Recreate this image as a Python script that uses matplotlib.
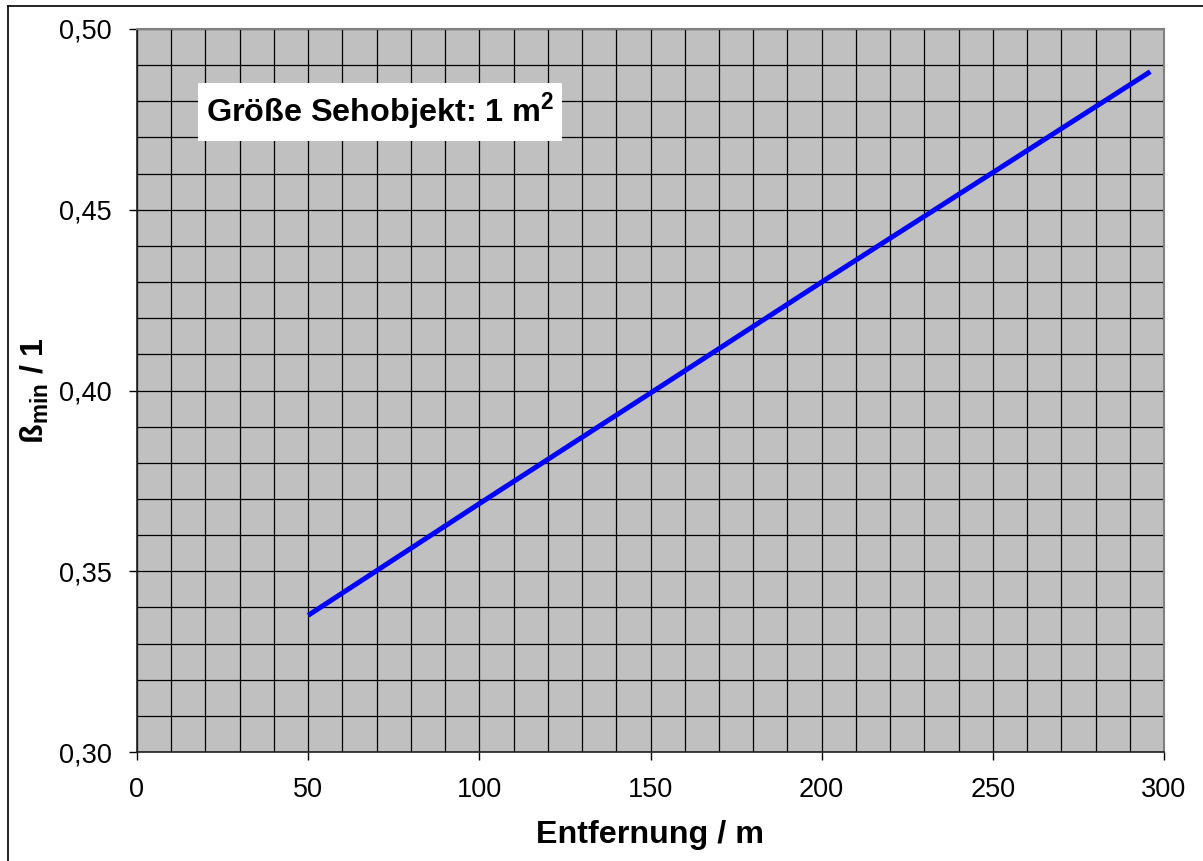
import matplotlib
matplotlib.use("Agg")
import matplotlib.pyplot as plt
from matplotlib.lines import Line2D
from matplotlib.ticker import MultipleLocator

plt.rcParams['font.family'] = ['Liberation Sans', 'DejaVu Sans']
plt.rcParams['mathtext.fontset'] = 'custom'
plt.rcParams['mathtext.rm'] = 'Liberation Sans'
plt.rcParams['mathtext.bf'] = 'Liberation Sans:bold'

# data
entfernung = [50, 100, 150, 200, 250, 296]
beta_min = [0.3378, 0.3687, 0.3993, 0.4300, 0.4603, 0.4882]
xticks = [0, 50, 100, 150, 200, 250, 300]
yticks = [0.30, 0.35, 0.40, 0.45, 0.50]
ytick_labels = ['0,30', '0,35', '0,40', '0,45', '0,50']

W, H = 1203, 861
fig = plt.figure(figsize=(W / 100, H / 100), dpi=100)
ax = fig.add_axes([137 / W, 1 - 752 / H, (1164 - 137) / W, (752 - 29) / H])
ax.set_facecolor('#c0c0c0')

ax.plot(entfernung, beta_min, color='#0000ff', lw=3.6, solid_capstyle='butt', zorder=3)

ax.set_xlim(0, 300)
ax.set_ylim(0.30, 0.50)
ax.set_xticks(xticks)
ax.set_xticklabels([str(v) for v in xticks])
ax.set_yticks(yticks)
ax.set_yticklabels(ytick_labels)
ax.xaxis.set_minor_locator(MultipleLocator(10))
ax.yaxis.set_minor_locator(MultipleLocator(0.01))
ax.grid(which='both', color='black', lw=0.9, zorder=1)
ax.set_axisbelow(True)
ax.tick_params(which='major', direction='out', length=6, width=1, color='black',
               labelsize=19.5, pad=12)
ax.tick_params(which='minor', length=0)

for s in ['left', 'bottom']:
    ax.spines[s].set_color('#202020')
    ax.spines[s].set_linewidth(1.2)
for s in ['top', 'right']:
    ax.spines[s].set_color('#808080')
    ax.spines[s].set_linewidth(1.5)

ax.set_xlabel('Entfernung / m', fontsize=23.2, fontweight='bold', labelpad=12)
ax.set_ylabel(r'ß$_\mathbf{min}$ / 1', fontsize=23.2, fontweight='bold', labelpad=6)

fig.text(380 / W, 1 - 112 / H, r'Größe Sehobjekt: 1 m$^\mathbf{2}$', fontsize=23.3,
         fontweight='bold', ha='center', va='center',
         bbox=dict(facecolor='white', edgecolor='none', boxstyle='square,pad=0.25'))

# outer frame (left and top edges visible)
fig.add_artist(Line2D([8 / W, 8 / W], [0, 1 - 6 / H], transform=fig.transFigure, color='black', lw=1.2))
fig.add_artist(Line2D([8 / W, 1], [1 - 6 / H, 1 - 6 / H], transform=fig.transFigure, color='black', lw=1.2))

fig.savefig('out.png', dpi=100)
